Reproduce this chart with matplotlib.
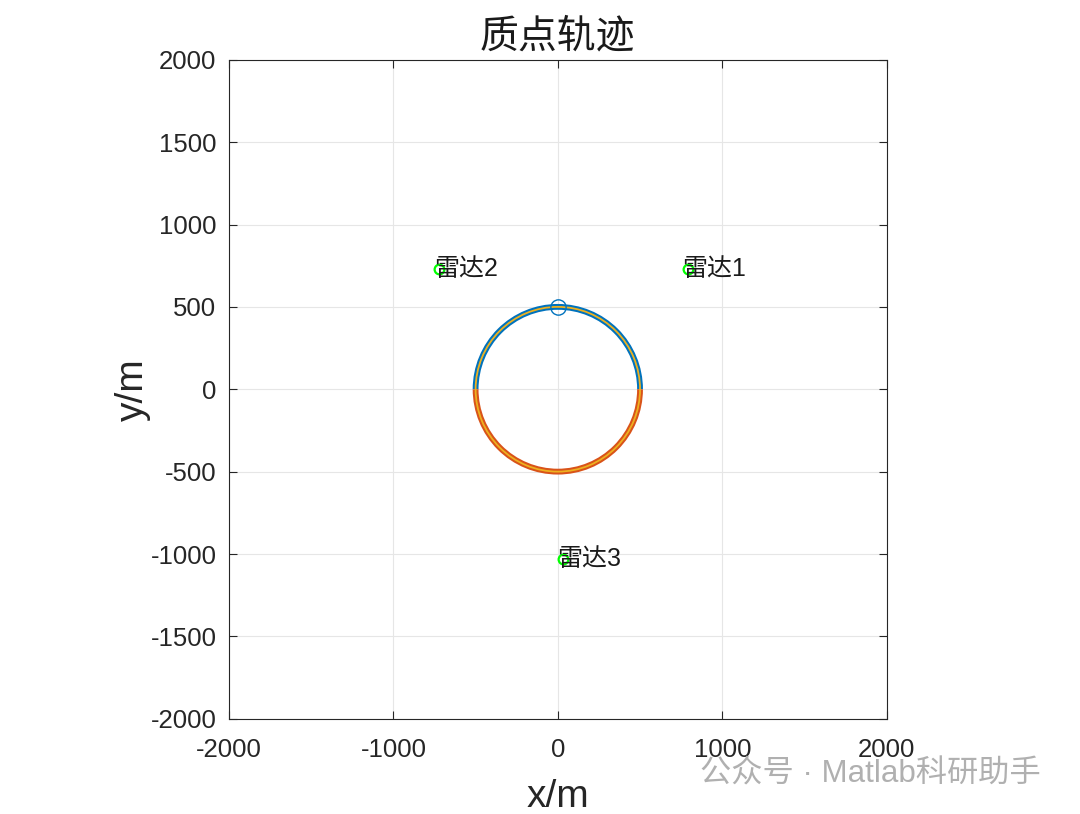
import matplotlib.pyplot as plt
from matplotlib.patches import Arc

plt.rcParams['font.family'] = ['Liberation Sans', 'Noto Sans CJK SC', 'DejaVu Sans']
plt.rcParams['axes.unicode_minus'] = False

# data
radar_names = ['雷达1', '雷达2', '雷达3']
radar_x = [790, -720, 30]
radar_y = [730, 730, -1030]
track_center = (0, 0)
track_radius = 500
start_point = (0, 500)
ticks = [-2000, -1500, -1000, -500, 0, 500, 1000, 1500, 2000]
xticks = [-2000, -1000, 0, 1000, 2000]

fig = plt.figure(figsize=(10.8, 8.14), dpi=100)
ax = fig.add_axes([0.212, 0.117, 0.609, 0.8096])

d = 2 * track_radius
# true track: upper half blue, lower half orange, estimate in yellow on top
ax.add_patch(Arc(track_center, d, d, theta1=0, theta2=180, color='#0072BD', lw=4.2))
ax.add_patch(Arc(track_center, d, d, theta1=180, theta2=360, color='#D95319', lw=4.2))
ax.add_patch(Arc(track_center, d, d, theta1=0, theta2=360, color='#EDB120', lw=1.3))
ax.plot(start_point[0], start_point[1], 'o', ms=11, mfc='none', mec='#0072BD', mew=1.0)

ax.plot(radar_x, radar_y, 'o', ms=7, mfc='none', mec='#00FF00', mew=1.6, ls='none')
for n, x, y in zip(radar_names, radar_x, radar_y):
    ax.text(x - 35, y, n, fontsize=18, va='center', ha='left', color='#1a1a1a')

ax.set_xlim(-2000, 2000)
ax.set_ylim(-2000, 2000)
ax.set_xticks(xticks)
ax.set_yticks(ticks)
ax.tick_params(direction='in', length=6, labelsize=18.5, colors='#262626', width=0.8,
               top=True, right=True)
ax.tick_params(axis='x', pad=14)
ax.tick_params(axis='y', pad=9)
ax.grid(True, color='#e6e6e6', lw=0.8)
ax.set_axisbelow(True)
for s in ax.spines.values():
    s.set_color('#262626')
    s.set_linewidth(0.8)

ax.set_title('质点轨迹', fontsize=28, pad=9, color='#1a1a1a')
ax.set_xlabel('x/m', fontsize=28, labelpad=12, color='#262626')
ax.set_ylabel('y/m', fontsize=28, labelpad=0, color='#262626')

fig.text(0.648, 0.048, '公众号 · Matlab科研助手', fontsize=22.5, color='#b0b0b0',
         ha='left', va='center')

fig.savefig('out.png', dpi=100)
